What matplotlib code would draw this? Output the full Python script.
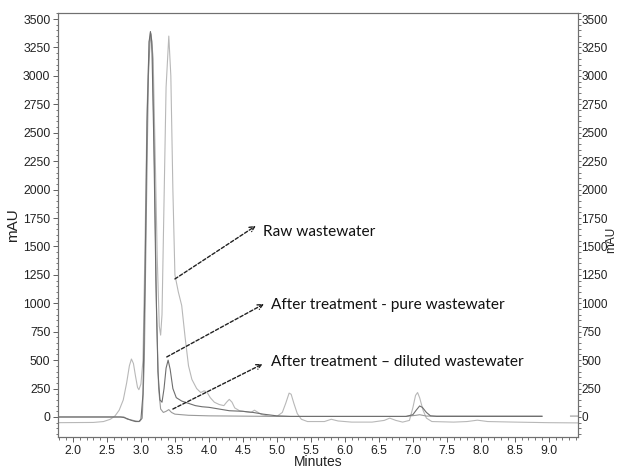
import numpy as np
import matplotlib
matplotlib.use("Agg")
import matplotlib.pyplot as plt
from matplotlib.ticker import MultipleLocator, FixedLocator

# Data (minutes, mAU)
raw_t = [1.78, 2.30, 2.45, 2.55, 2.62, 2.68, 2.74, 2.79, 2.83, 2.86, 2.89, 2.92, 2.95, 2.97,
         3.00, 3.03, 3.06, 3.09, 3.12, 3.15, 3.18, 3.21, 3.24, 3.27, 3.29, 3.31, 3.34, 3.37,
         3.41, 3.44, 3.47, 3.50, 3.55, 3.60, 3.65, 3.70, 3.75, 3.82, 3.88, 3.93, 3.97, 4.02,
         4.08, 4.15, 4.22, 4.26, 4.30, 4.34, 4.38, 4.45, 4.55, 4.62, 4.67, 4.71, 4.78, 4.90,
         5.00, 5.08, 5.13, 5.18, 5.21, 5.25, 5.30, 5.36, 5.45, 5.70, 5.80, 5.90, 6.10, 6.40,
         6.58, 6.66, 6.75, 6.85, 6.95, 7.00, 7.04, 7.07, 7.10, 7.15, 7.20, 7.28, 7.60, 7.80,
         7.95, 8.10, 8.50, 9.00, 9.43]
raw_v = [-50, -48, -40, -20, 10, 60, 150, 300, 450, 510, 470, 360, 260, 240,
         290, 500, 1500, 2700, 3300, 3370, 3150, 2300, 1400, 800, 720, 900, 1900, 2900,
         3350, 3000, 2000, 1250, 1100, 980, 700, 450, 330, 250, 215, 230, 220, 170,
         130, 110, 100, 130, 155, 130, 80, 55, 45, 40, 60, 45, 20, 5,
         5, 40, 120, 210, 200, 120, 30, -20, -40, -40, -20, -35, -45, -45,
         -30, -10, -30, -45, -30, 80, 190, 215, 170, 60, -10, -40, -45, -40,
         -28, -40, -45, -50, -52]

pure_t = [1.78, 2.70, 2.75, 2.80, 2.86, 2.92, 2.97, 3.00, 3.03, 3.06, 3.09, 3.12, 3.14, 3.16,
          3.19, 3.22, 3.25, 3.28, 3.31, 3.34, 3.37, 3.40, 3.43, 3.47, 3.52, 3.60, 3.70, 3.80,
          3.90, 4.00, 4.15, 4.30, 4.50, 4.65, 4.80, 5.00, 5.20, 6.90, 7.00, 7.05, 7.10, 7.14,
          7.20, 7.26, 7.35, 8.90]
pure_v = [0, 0, -5, -15, -30, -40, -40, -20, 200, 1200, 2600, 3300, 3390, 3300,
          2400, 1200, 400, 150, 130, 250, 430, 500, 420, 250, 170, 140, 120, 100,
          90, 85, 70, 55, 50, 40, 25, 10, 5, 5, 20, 60, 97, 85,
          40, 10, 5, 5]

dil_t = [1.78, 2.75, 2.80, 2.85, 2.92, 2.98, 3.02, 3.05, 3.08, 3.11, 3.14, 3.17, 3.20, 3.23,
         3.26, 3.29, 3.33, 3.37, 3.41, 3.45, 3.50, 3.70, 4.00, 5.00, 6.90, 7.05, 7.10, 7.20,
         8.90, np.nan, 9.32, 9.43]
dil_v = [0, 0, -20, -25, -35, -40, -10, 500, 1800, 3000, 3380, 3200, 2200, 900,
         250, 70, 40, 50, 65, 40, 25, 15, 10, 5, 5, 15, 20, 8,
         8, np.nan, 8, 8]

labels = ["Raw wastewater", "After treatment - pure wastewater",
          "After treatment \u2013 diluted wastewater"]
arrow_start = [(3.50, 1214), (3.38, 528), (3.47, 70)]
arrow_tip = [(4.69, 1681), (4.81, 994), (4.79, 466)]
text_pos = [(4.79, 1628), (4.91, 986), (4.91, 484)]

xticks = [2.0, 2.5, 3.0, 3.5, 4.0, 4.5, 5.0, 5.5, 6.0, 6.5, 7.0, 7.5, 8.0, 8.5, 9.0]
yticks = list(range(0, 3501, 250))

plt.rcParams['font.family'] = ['Liberation Sans', 'DejaVu Sans']

fig = plt.figure(figsize=(6.2, 4.69), dpi=100)
ax = fig.add_axes([58/620, 1-437/469, 520/620, 424/469])

ax.plot(raw_t, raw_v, color='#b8b8b8', lw=0.8)
ax.plot(dil_t, dil_v, color='#9a9a9a', lw=0.8)
ax.plot(pure_t, pure_v, color='#6e6e6e', lw=0.8)

ax.set_xlim(1.78, 9.43)
ax.set_ylim(-176, 3553)

ax.xaxis.set_major_locator(FixedLocator(xticks))
ax.xaxis.set_minor_locator(MultipleLocator(0.1))
ax.yaxis.set_major_locator(FixedLocator(yticks))
ax.yaxis.set_minor_locator(MultipleLocator(50))
ax.set_xticklabels([f"{t:.1f}" for t in xticks])

ax2 = ax.twinx()
ax2.set_ylim(ax.get_ylim())
ax2.yaxis.set_major_locator(FixedLocator(yticks))
ax2.yaxis.set_minor_locator(MultipleLocator(50))

for a in (ax, ax2):
    for s in a.spines.values():
        s.set_color('#707070')
        s.set_linewidth(0.8)
    a.tick_params(which='major', length=3.5, width=0.7, color='#606060',
                  labelsize=8.8, labelcolor='#222222', pad=2)
    a.tick_params(which='minor', length=1.8, width=0.6, color='#606060')
ax2.tick_params(which='major', length=2, pad=0.3, labelsize=8.5)

ax.set_xlabel("Minutes", fontsize=10, color='#222222')
ax.xaxis.set_label_coords(0.5, -0.043)
ax.set_ylabel("mAU", fontsize=11, color='#222222', labelpad=2)
ax2.set_ylabel("mAU", fontsize=8.5, color='#222222', rotation=90)
ax2.yaxis.set_label_coords(1.053, 0.465)

for lab, s, tip, tp in zip(labels, arrow_start, arrow_tip, text_pos):
    ax.annotate("", xy=tip, xytext=s, xycoords='data', textcoords='data',
                arrowprops=dict(arrowstyle='->', linestyle=(0, (2.5, 1.5)), color='#222222',
                                lw=1.0, shrinkA=0, shrinkB=0, mutation_scale=9))
    ax.text(tp[0], tp[1], lab, fontsize=11.1, family=['Lato', 'DejaVu Sans'],
            color='#111111', va='center', ha='left')

fig.savefig("out.png", dpi=100)
